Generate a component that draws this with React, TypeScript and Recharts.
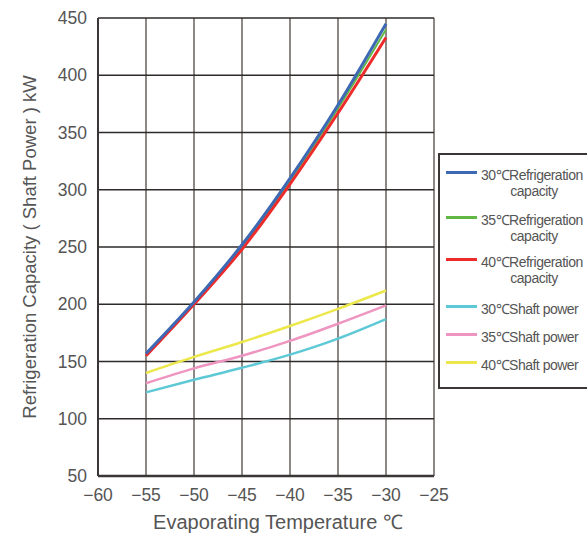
import React from 'react';
import { LineChart, Line, XAxis, YAxis, CartesianGrid, Label } from 'recharts';

// evaporating temperature, degC
const temps = [-55, -50, -45, -40, -35, -30];

// refrigeration capacity, kW
const cap30 = [157, 202, 252, 310, 374, 445];
const cap35 = [156, 201, 250, 308, 371, 440];
const cap40 = [155, 200, 248, 305, 367, 433];

// shaft power, kW
const shaft30 = [123, 134, 144.5, 156, 170, 187];
const shaft35 = [131, 144, 155, 168, 183, 199];
const shaft40 = [140, 154, 167, 181, 196, 212];

const xTicks = [-60, -55, -50, -45, -40, -35, -30, -25];
const yTicks = [50, 100, 150, 200, 250, 300, 350, 400, 450];

const data = temps.map((t, i) => ({
  t,
  cap30: cap30[i],
  cap35: cap35[i],
  cap40: cap40[i],
  shaft30: shaft30[i],
  shaft35: shaft35[i],
  shaft40: shaft40[i],
}));

const series = [
  { key: 'cap30', name: '30℃Refrigeration', sub: 'capacity', color: '#3d68b4' },
  { key: 'cap35', name: '35℃Refrigeration', sub: 'capacity', color: '#62b844' },
  { key: 'cap40', name: '40℃Refrigeration', sub: 'capacity', color: '#ee2b2b' },
  { key: 'shaft30', name: '30℃Shaft power', sub: '', color: '#5ec9d6' },
  { key: 'shaft35', name: '35℃Shaft power', sub: '', color: '#ef95c1' },
  { key: 'shaft40', name: '40℃Shaft power', sub: '', color: '#ece84c' },
];
const colorOf = (k: string) => series.find((s) => s.key === k)!.color;

const font = '"Liberation Sans", Arial, sans-serif';
const textColor = '#555';

// legend rows: sample line top offset inside the box
const legendRows = [16, 61, 103, 150, 178, 206];

const LegendBox = () => (
  <div
    style={{
      position: 'absolute',
      left: 438,
      top: 153,
      width: 160,
      height: 232,
      border: '2px solid #3a3636',
      background: '#fff',
      fontFamily: font,
      fontSize: 14,
      color: textColor,
      letterSpacing: -0.5,
    }}
  >
    {series.map((s, i) => (
      <div key={s.key} style={{ position: 'absolute', left: 6, top: legendRows[i] }}>
        <div style={{ position: 'absolute', left: 0, top: 0, width: 31, height: 3, background: s.color }} />
        <div style={{ position: 'absolute', left: 35, top: -4, whiteSpace: 'nowrap', lineHeight: '16px' }}>{s.name}</div>
        {s.sub && (
          <div style={{ position: 'absolute', left: 35, top: 12, width: 106, textAlign: 'center', lineHeight: '16px' }}>
            {s.sub}
          </div>
        )}
      </div>
    ))}
  </div>
);

const fmt = (v: number) => String(v).replace('-', '\u2212');

export default function App() {
  return (
    <div style={{ position: 'absolute', left: 0, top: 0, width: 587, height: 536, overflow: 'hidden', background: '#fff' }}>
      <LineChart width={587} height={536} data={data} margin={{ top: 18, right: 153, bottom: 4, left: 0 }}>
        <CartesianGrid horizontal={false} stroke="#8d8886" strokeWidth={2} />
        <CartesianGrid vertical={false} stroke="#2e2a2a" strokeWidth={1.3} />
        <XAxis
          dataKey="t"
          type="number"
          domain={[-60, -25]}
          ticks={xTicks}
          tickFormatter={fmt}
          interval={0}
          height={56}
          tickSize={0}
          tickMargin={13}
          stroke="#3a3636"
          strokeWidth={2.5}
          tick={{ fill: textColor, fontSize: 17.5, fontFamily: font }}
        >
          <Label
            value="Evaporating Temperature ℃"
            position="insideBottom"
            offset={3}
            dx={12}
            style={{ fill: textColor, fontSize: 20, fontFamily: font }}
          />
        </XAxis>
        <YAxis
          type="number"
          domain={[50, 450]}
          ticks={yTicks}
          interval={0}
          width={98}
          tickSize={0}
          tickMargin={11}
          stroke="#3a3636"
          strokeWidth={2}
          tick={{ fill: textColor, fontSize: 17.5, fontFamily: font }}
        >
          <Label
            value="Refrigeration Capacity ( Shaft Power ) kW"
            angle={-90}
            position="insideLeft"
            offset={29}
            style={{ fill: textColor, fontSize: 18.5, fontFamily: font, textAnchor: 'middle' }}
          />
        </YAxis>
        <Line type="monotone" dataKey="cap35" stroke={colorOf('cap35')} strokeWidth={2} dot={false} isAnimationActive={false} />
        <Line type="monotone" dataKey="cap40" stroke={colorOf('cap40')} strokeWidth={3} dot={false} isAnimationActive={false} />
        <Line type="monotone" dataKey="cap30" stroke={colorOf('cap30')} strokeWidth={3} dot={false} isAnimationActive={false} />
        <Line type="monotone" dataKey="shaft30" stroke={colorOf('shaft30')} strokeWidth={2.5} dot={false} isAnimationActive={false} />
        <Line type="monotone" dataKey="shaft35" stroke={colorOf('shaft35')} strokeWidth={2.5} dot={false} isAnimationActive={false} />
        <Line type="monotone" dataKey="shaft40" stroke={colorOf('shaft40')} strokeWidth={2.5} dot={false} isAnimationActive={false} />
      </LineChart>
      <LegendBox />
    </div>
  );
}
